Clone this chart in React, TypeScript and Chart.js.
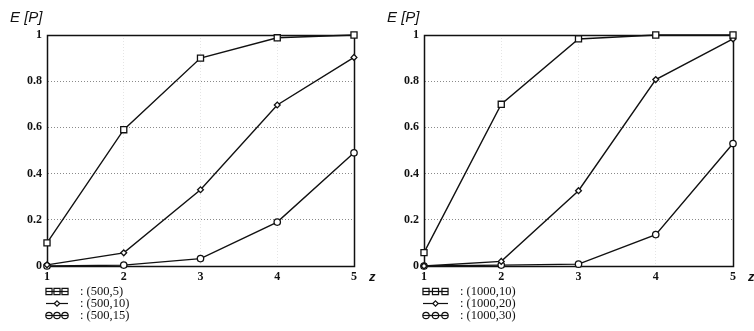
import React, { useEffect, useRef } from 'react';
import { Chart, registerables } from 'chart.js';

Chart.register(...registerables);

// ---- data ----
const zValues = ['1', '2', '3', '4', '5'];
const yTickValues = [0, 0.2, 0.4, 0.6, 0.8, 1];

const leftLegend = ['(500,5)', '(500,10)', '(500,15)'];
const left500_5 = [0.1, 0.59, 0.9, 0.988, 1.0];
const left500_10 = [0.005, 0.057, 0.33, 0.697, 0.903];
const left500_15 = [0.0, 0.004, 0.032, 0.19, 0.49];

const rightLegend = ['(1000,10)', '(1000,20)', '(1000,30)'];
const right1000_10 = [0.058, 0.7, 0.983, 1.0, 1.0];
const right1000_20 = [0.0, 0.02, 0.326, 0.807, 0.983];
const right1000_30 = [0.0, 0.004, 0.008, 0.136, 0.53];

const yTitle = 'E [P]';
const xTitle = 'z';

type Panel = {
  legend: string[];
  series: number[][];
  rightPad: number;
  legendMarkerWidth: number;
  legendTextOffset: number;
};

const panels: Panel[] = [
  { legend: leftLegend, series: [left500_5, left500_10, left500_15], rightPad: 23, legendMarkerWidth: 22, legendTextOffset: 33 },
  { legend: rightLegend, series: [right1000_10, right1000_20, right1000_30], rightPad: 21, legendMarkerWidth: 25, legendTextOffset: 36 },
];

const styles = ['rect', 'rectRot', 'circle'] as const;
const radii = [4.3, 2.9, 3.2];

function drawMarker(ctx: CanvasRenderingContext2D, style: string, x: number, y: number, r: number) {
  ctx.beginPath();
  if (style === 'rect') {
    const s = Math.SQRT1_2 * r;
    ctx.rect(x - s, y - s, 2 * s, 2 * s);
  } else if (style === 'rectRot') {
    ctx.moveTo(x, y - r);
    ctx.lineTo(x + r, y);
    ctx.lineTo(x, y + r);
    ctx.lineTo(x - r, y);
    ctx.closePath();
  } else {
    ctx.arc(x, y, r, 0, Math.PI * 2);
  }
  ctx.fillStyle = '#fff';
  ctx.fill();
  ctx.stroke();
}

function makeDecor(panel: Panel) {
  return {
    id: 'decor',
    beforeDatasetsDraw(chart: any) {
      const { ctx, chartArea: a } = chart;
      ctx.save();
      ctx.strokeStyle = '#111';
      ctx.lineWidth = 1.5;
      ctx.strokeRect(
        Math.round(a.left) + 0.5,
        Math.round(a.top) + 0.5,
        Math.round(a.right - a.left),
        Math.round(a.bottom - a.top)
      );
      ctx.restore();
    },
    afterDraw(chart: any) {
      const { ctx, chartArea: a } = chart;
      ctx.save();
      ctx.fillStyle = '#111';
      ctx.textBaseline = 'alphabetic';
      ctx.textAlign = 'left';
      ctx.font = 'italic 15px "Liberation Sans", Arial, sans-serif';
      ctx.fillText(yTitle, 10, 22);
      ctx.font = 'bold italic 13px "Liberation Sans", Arial, sans-serif';
      ctx.fillText(xTitle, a.right + 15, a.bottom + 15);

      // legend
      ctx.strokeStyle = '#111';
      ctx.lineWidth = 1.2;
      const x0 = a.left - 1;
      const w = panel.legendMarkerWidth;
      panel.legend.forEach((label, i) => {
        const y = 291 + 12 * i;
        ctx.beginPath();
        ctx.moveTo(x0, y + 0.5);
        ctx.lineTo(x0 + w, y + 0.5);
        ctx.stroke();
        const st = styles[i];
        if (st === 'rectRot') {
          drawMarker(ctx, st, x0 + w / 2, y + 0.5, 2.7);
        } else {
          const r = st === 'rect' ? 4.3 : 3.2;
          const step = (w - 6) / 2;
          for (let k = 0; k < 3; k++) drawMarker(ctx, st, x0 + 3 + k * step, y + 0.5, r);
          ctx.beginPath();
          ctx.moveTo(x0, y + 0.5);
          ctx.lineTo(x0 + w, y + 0.5);
          ctx.stroke();
        }
        ctx.fillStyle = '#111';
        ctx.font = '12.5px "Liberation Serif", "Times New Roman", serif';
        ctx.textBaseline = 'middle';
        ctx.fillText(': ' + label, a.left + panel.legendTextOffset, y + 1);
      });
      ctx.restore();
    },
  };
}

function PanelChart({ panel }: { panel: Panel }) {
  const ref = useRef<HTMLCanvasElement | null>(null);
  useEffect(() => {
    if (!ref.current) return;
    const chart = new Chart(ref.current, {
      type: 'line',
      data: {
        labels: zValues,
        datasets: panel.series.map((vals, i) => ({
          label: panel.legend[i],
          data: vals,
          borderColor: '#111',
          borderWidth: 1.4,
          pointStyle: styles[i],
          pointRadius: radii[i],
          pointBorderWidth: 1.3,
          pointBorderColor: '#111',
          pointBackgroundColor: '#fff',
          fill: false,
          tension: 0,
          clip: false as any,
        })),
      },
      options: {
        responsive: false,
        animation: false,
        events: [],
        layout: { padding: { left: 0, top: 35, right: panel.rightPad, bottom: 0 } },
        plugins: {
          legend: { display: false },
          tooltip: { enabled: false },
          title: { display: false },
        },
        scales: {
          x: {
            type: 'category',
            offset: false,
            afterFit: (scale: any) => {
              scale.height = 65;
            },
            grid: { color: 'rgba(0,0,0,0.10)', drawTicks: false, lineWidth: 1 },
            border: { display: true, color: '#111', dash: [1, 2] },
            ticks: {
              padding: 4,
              color: '#111',
              font: { family: '"Liberation Serif", "Times New Roman", serif', size: 12, weight: 'bold' },
              maxRotation: 0,
            },
          },
          y: {
            type: 'linear',
            min: 0,
            max: 1,
            afterFit: (scale: any) => {
              scale.width = 47;
            },
            afterBuildTicks: (scale: any) => {
              scale.ticks = yTickValues.map((v) => ({ value: v }));
            },
            grid: { color: '#8a8a8a', drawTicks: false, lineWidth: 1 },
            border: { display: true, color: '#111', dash: [1, 2] },
            ticks: {
              padding: 5,
              color: '#111',
              font: { family: '"Liberation Serif", "Times New Roman", serif', size: 12, weight: 'bold' },
              callback: (v: any) => String(Math.round(Number(v) * 10) / 10),
            },
          },
        },
      },
      plugins: [makeDecor(panel)],
    });
    return () => chart.destroy();
  }, [panel]);
  return <canvas ref={ref} width={377} height={331} style={{ display: 'block', width: 377, height: 331 }} />;
}

export default function App() {
  return (
    <div style={{ position: 'absolute', left: 0, top: 0, width: 754, height: 331, background: '#fff', display: 'flex', overflow: 'hidden' }}>
      <PanelChart panel={panels[0]} />
      <PanelChart panel={panels[1]} />
    </div>
  );
}
